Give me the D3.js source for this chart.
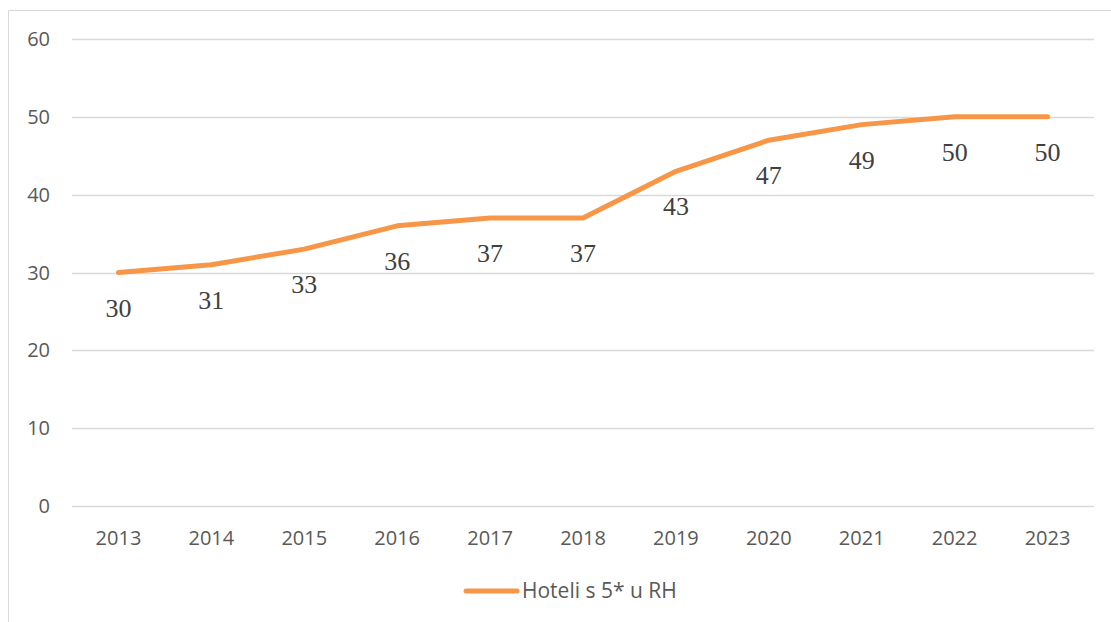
<!DOCTYPE html>
<html>
<head>
<meta charset="utf-8">
<script src="https://cdn.jsdelivr.net/npm/d3@7"></script>
<style>
  body { margin: 0; background: #fff; }
  svg { display: block; }
</style>
</head>
<body>
<svg id="chart" width="1111" height="622"></svg>
<script>
// chart data
const years = ["2013", "2014", "2015", "2016", "2017", "2018", "2019", "2020", "2021", "2022", "2023"];
const hotels = [30, 31, 33, 36, 37, 37, 43, 47, 49, 50, 50];
const yTicks = [0, 10, 20, 30, 40, 50, 60];
const seriesName = "Hoteli s 5* u RH";

const lineColor = "#F79646";
const axisFont = "'Open Sans', sans-serif";

const svg = d3.select("#chart");

// outer frame (only left and top edges are visible in the picture)
svg.append("path")
  .attr("d", "M8.5,622 V10.5 H1111")
  .attr("fill", "none")
  .attr("stroke", "#d9d9d9")
  .attr("stroke-width", 1);

let x = d3.scaleBand()
  .domain(years)
  .range([72, 1094]);

let y = d3.scaleLinear()
  .domain([0, 60])
  .range([506, 39]);

function cx(d) { return x(d) + x.bandwidth() / 2; }

// gridlines
svg.append("g").selectAll("line")
  .data(yTicks)
  .enter().append("line")
    .attr("x1", 72)
    .attr("x2", 1094)
    .attr("y1", function(d) { return Math.round(y(d)) + 0.5; })
    .attr("y2", function(d) { return Math.round(y(d)) + 0.5; })
    .attr("stroke", "#d9d9d9")
    .attr("stroke-width", 1.3);

// y labels
svg.append("g").selectAll("text")
  .data(yTicks)
  .enter().append("text")
    .attr("x", 50)
    .attr("y", function(d) { return y(d); })
    .attr("dy", "0.35em")
    .attr("text-anchor", "end")
    .attr("font-family", axisFont)
    .attr("font-size", "20px")
    .attr("fill", "#595959")
    .text(function(d) { return d; });

// x labels
svg.append("g").selectAll("text")
  .data(years)
  .enter().append("text")
    .attr("x", cx)
    .attr("y", 538)
    .attr("dy", "0.35em")
    .attr("text-anchor", "middle")
    .attr("font-family", axisFont)
    .attr("font-size", "20px")
    .attr("fill", "#595959")
    .text(function(d) { return d; });

// series line
let line = d3.line()
  .x(function(d, i) { return cx(years[i]); })
  .y(function(d) { return y(d); });

svg.append("path")
  .datum(hotels)
  .attr("d", line)
  .attr("fill", "none")
  .attr("stroke", lineColor)
  .attr("stroke-width", 5)
  .attr("stroke-linecap", "round")
  .attr("stroke-linejoin", "round");

// data labels below the points
svg.append("g").selectAll("text")
  .data(hotels)
  .enter().append("text")
    .attr("x", function(d, i) { return cx(years[i]); })
    .attr("y", function(d) { return y(d) + 35; })
    .attr("dy", "0.35em")
    .attr("text-anchor", "middle")
    .attr("font-family", "'Liberation Serif', 'Times New Roman', serif")
    .attr("font-size", "26px")
    .attr("fill", "#404040")
    .text(function(d) { return d; });

// legend
let legend = svg.append("g").attr("class", "legend");

legend.append("line")
  .attr("x1", 466)
  .attr("x2", 517)
  .attr("y1", 591)
  .attr("y2", 591)
  .attr("stroke", lineColor)
  .attr("stroke-width", 5)
  .attr("stroke-linecap", "round");

legend.append("text")
  .attr("x", 522)
  .attr("y", 591)
  .attr("dy", "0.35em")
  .attr("font-family", axisFont)
  .attr("font-size", "21px")
  .attr("fill", "#595959")
  .text(seriesName);
</script>
</body>
</html>
